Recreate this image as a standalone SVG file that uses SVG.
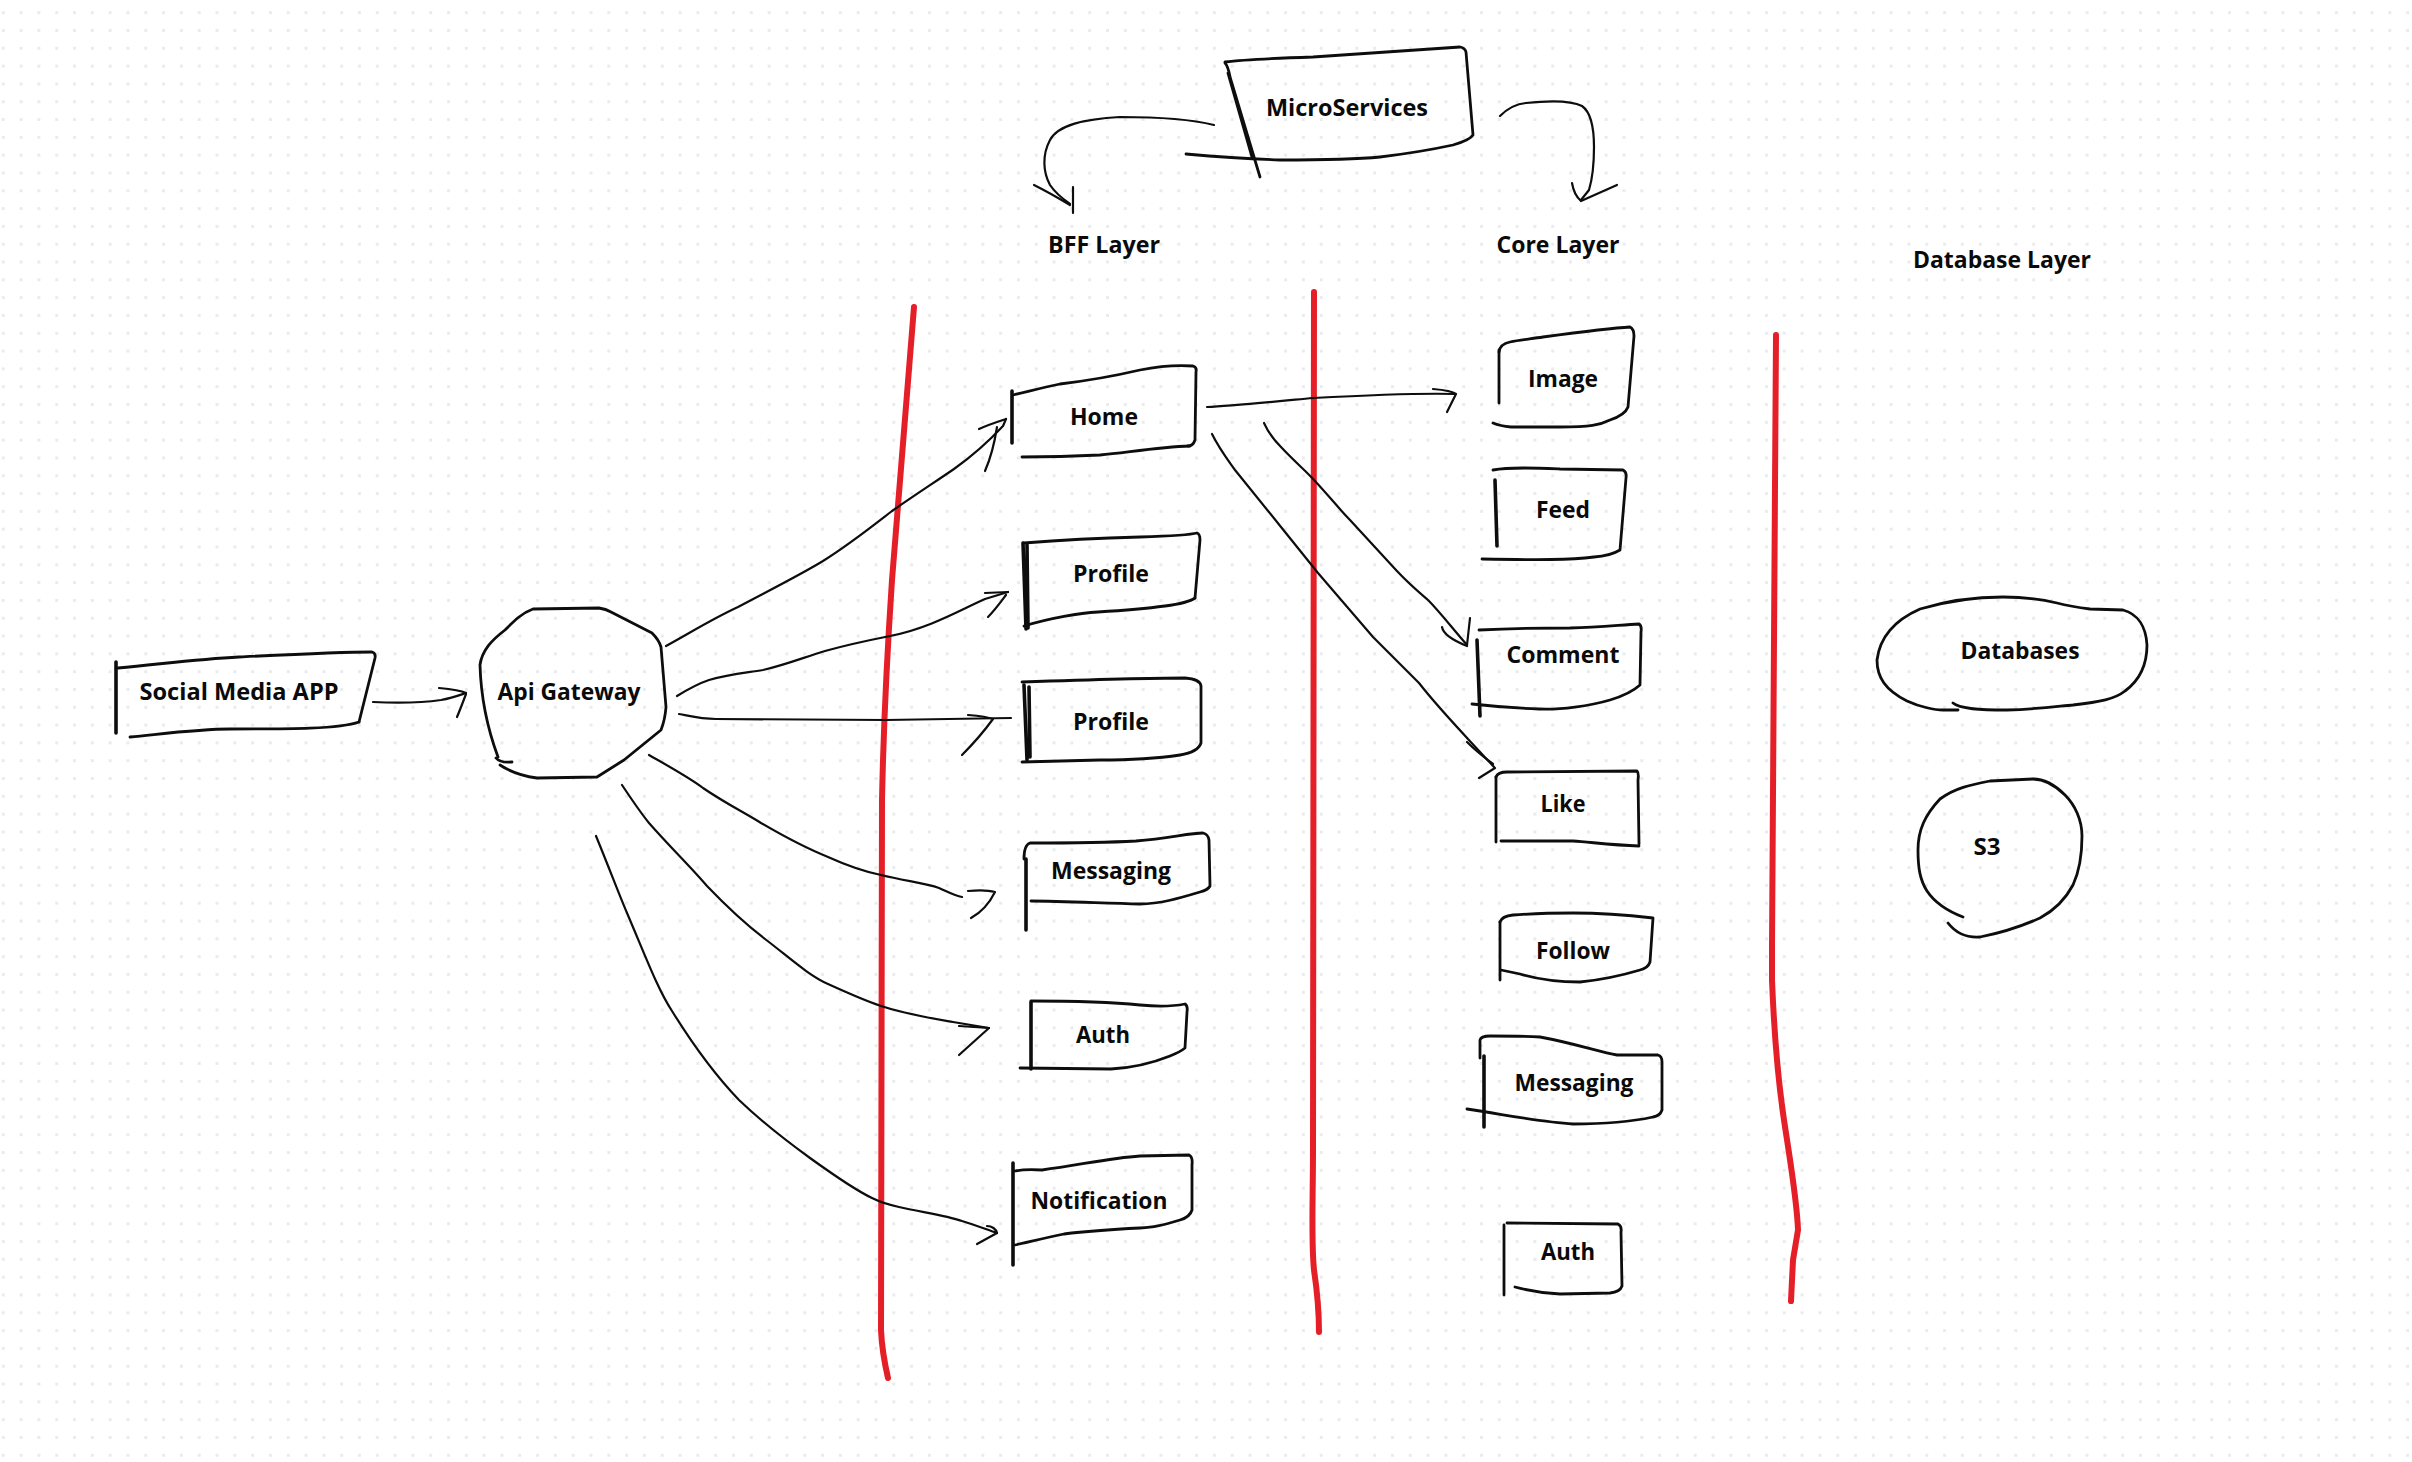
<svg xmlns="http://www.w3.org/2000/svg" width="2412" height="1462" viewBox="0 0 2412 1462">
<defs>
<pattern id="dots" patternUnits="userSpaceOnUse" x="1.8" y="11.2" width="17.81" height="17.81">
<rect x="0" y="0" width="3" height="3" fill="#e9ebef"/>
</pattern>
<style>
.s{fill:none;stroke:#0d0d0d;stroke-width:2.8;stroke-linecap:round;stroke-linejoin:round}
.t{stroke-width:3.6}
.c{fill:none;stroke:#0d0d0d;stroke-width:2.2;stroke-linecap:round;stroke-linejoin:round}
.r{fill:none;stroke:#e51f28;stroke-width:6;stroke-linecap:round;stroke-linejoin:round}
.l{font-family:"Open Sans","Liberation Sans",sans-serif;font-weight:700;font-size:24px;fill:#0a0a0a;text-anchor:middle}
</style>
</defs>
<rect width="2412" height="1462" fill="#ffffff"/>
<rect width="2412" height="1462" fill="url(#dots)"/>

<g id="dividers">
<path class="r" d="M914,307 L892,580 Q884,700 882,800 L881,1330 Q882,1352 888,1378"/>
<path class="r" d="M1314,292 L1313,1150 C1313,1200 1311,1240 1314,1270 C1317,1290 1319,1310 1319,1332"/>
<path class="r" d="M1776,335 L1772,946 L1772,980 C1774,1030 1778,1080 1784,1120 C1790,1160 1797,1200 1798,1230 L1793,1260 L1791,1301"/>
</g>

<g id="layer-labels">
<text class="l" x="1104" y="253" textLength="112" lengthAdjust="spacingAndGlyphs">BFF Layer</text>
<text class="l" x="1558" y="253" textLength="123" lengthAdjust="spacingAndGlyphs">Core Layer</text>
<text class="l" x="2002" y="268" textLength="178" lengthAdjust="spacingAndGlyphs">Database Layer</text>
</g>

<g id="connectors">
<!-- Social -> Api -->
<path class="c" d="M373,702 C395,703 420,703 441,700 C452,698 460,695 466,693"/>
<path class="c" d="M439,688 C450,689 460,690 466,693 M466,694 C463,702 460,710 457,717"/>
<!-- MicroServices -> BFF -->
<path class="c" d="M1214,125 C1190,119 1153,117 1120,117 C1084,119 1058,125 1050,140 C1042,155 1043,172 1050,185 C1056,194 1063,199 1070,204"/>
<path class="c" d="M1034,185 C1048,192 1060,199 1070,205 M1073,187 L1073,213"/>
<!-- MicroServices -> Core -->
<path class="c" d="M1500,116 C1508,108 1515,104 1526,103 C1545,101 1570,100 1582,106 C1592,113 1594,130 1594,147 C1594,165 1592,180 1589,190 L1581,200"/>
<path class="c" d="M1572,183 Q1574,195 1581,201 M1617,185 L1581,201"/>
<!-- Api -> Home -->
<path class="c" d="M666,646 C690,633 710,620 738,607 C770,590 800,575 823,561 C850,544 870,528 892,511 C915,495 935,482 954,469 C975,454 990,440 1003,426 L1006,419"/>
<path class="c" d="M979,429 C990,424 1000,421 1006,419 M997,427 C995,440 992,455 985,471"/>
<!-- Api -> Profile 1 -->
<path class="c" d="M677,696 C690,688 700,683 709,680 C730,674 745,673 763,670 C785,665 805,657 825,651 C850,644 870,640 890,636 C930,628 960,610 985,599 L1008,592"/>
<path class="c" d="M985,593 L1008,592 M1006,595 C1000,603 995,610 988,617"/>
<!-- Api -> Profile 2 -->
<path class="c" d="M679,714 C690,716 700,719 716,719 L886,720 L1011,718"/>
<path class="c" d="M968,715 C980,716 988,717 993,719 M993,719 C985,730 972,745 962,755"/>
<!-- Api -> Messaging -->
<path class="c" d="M649,755 C670,767 690,778 703,788 C725,803 745,813 761,823 C790,840 808,849 828,857 C848,866 866,872 881,875 C905,881 925,883 939,888 C948,892 955,896 962,897"/>
<path class="c" d="M968,891 C978,890 988,890 995,892 C990,902 982,912 971,918"/>
<!-- Api -> Auth -->
<path class="c" d="M622,785 C632,800 640,812 649,823 C670,847 690,866 707,886 C730,910 748,926 765,939 C790,958 808,975 828,984 C850,994 866,1001 881,1006 C905,1014 930,1018 953,1022 L989,1028"/>
<path class="c" d="M959,1026 L989,1028 L959,1055"/>
<!-- Api -> Notification -->
<path class="c" d="M596,836 C610,870 618,892 627,913 C645,955 658,990 672,1011 C695,1048 715,1075 739,1100 C765,1125 788,1142 810,1158 C835,1176 855,1190 872,1198 C882,1203 890,1205 899,1207 C920,1212 945,1215 962,1221 C975,1225 988,1230 997,1233"/>
<path class="c" d="M977,1244 L997,1233 M987,1226 C992,1226 996,1229 997,1233"/>
<!-- Home -> Image -->
<path class="c" d="M1207,407 C1230,406 1260,403 1313,398 C1370,395 1420,393 1455,394"/>
<path class="c" d="M1433,389 C1445,390 1452,391 1456,394 C1453,400 1450,406 1447,412"/>
<!-- Home -> Comment -->
<path class="c" d="M1264,423 C1268,432 1274,440 1281,447 C1295,462 1305,470 1314,480 C1330,497 1340,510 1350,520 L1396,570 C1410,585 1420,593 1428,600 C1440,612 1452,628 1467,645"/>
<path class="c" d="M1470,618 L1467,645 M1442,627 C1443,633 1452,640 1467,646"/>
<!-- Home -> Like -->
<path class="c" d="M1212,434 C1220,450 1228,460 1235,470 L1281,527 L1318,573 L1373,637 L1419,683 C1440,710 1460,730 1494,767"/>
<path class="c" d="M1467,742 C1475,750 1485,758 1493,764 M1479,778 L1495,768"/>
</g>

<g id="node-social">
<path class="s t" d="M116,662 L116,733"/>
<path class="s" d="M118,668 C170,663 200,659 239,657 C300,654 340,652 372,652 Q376,653 375,658 L359,722"/>
<path class="s" d="M130,737 C170,733 200,729 230,729 C290,729 340,729 359,722"/>
<text class="l" x="239" y="700" textLength="199" lengthAdjust="spacingAndGlyphs">Social Media APP</text>
</g>

<g id="node-api">
<path class="s" d="M498,757 C488,730 481,700 480,665 C482,650 492,640 505,630 C515,620 522,613 533,609 L599,608 Q606,609 611,612 L652,633 Q659,640 661,647 L666,707 Q665,720 661,730 L624,760 L597,777 L537,778 Q515,775 500,765"/>
<path class="s" d="M496,758 Q500,763 512,762"/>
<text class="l" x="569" y="700" textLength="143" lengthAdjust="spacingAndGlyphs">Api Gateway</text>
</g>

<g id="node-microservices">
<path class="s" d="M1225,62 C1240,60 1280,58 1313,57 C1360,54 1413,50 1460,47 Q1465,48 1466,52 L1473,135 Q1470,140 1453,145 C1430,150 1413,153 1380,157 C1350,160 1300,160 1280,160 C1250,159 1220,157 1186,154"/>
<path class="s" d="M1225,63 Q1228,66 1230,77 L1260,177 M1228,73 L1252,157"/>
<text class="l" x="1347" y="116" textLength="162" lengthAdjust="spacingAndGlyphs">MicroServices</text>
</g>

<g id="node-bff-home">
<path class="s t" d="M1012,391 L1012,443"/>
<path class="s" d="M1013,395 C1030,391 1045,387 1060,384 C1085,381 1110,377 1140,370 C1160,366 1180,365 1193,366 Q1197,367 1196,372 L1195,440 Q1193,446 1188,446"/>
<path class="s" d="M1022,457 C1050,457 1080,456 1100,455 C1130,452 1160,447 1190,446"/>
<text class="l" x="1104" y="425" textLength="68" lengthAdjust="spacingAndGlyphs">Home</text>
</g>

<g id="node-bff-profile-1">
<path class="s t" d="M1023,543 L1026,629 M1027,545 L1028,628"/>
<path class="s" d="M1024,543 C1060,540 1098,538 1140,537 C1170,536 1190,535 1197,533 Q1200,534 1200,540 L1195,598"/>
<path class="s" d="M1024,626 C1050,618 1080,613 1098,612 C1130,610 1150,608 1165,606 Q1188,603 1195,598"/>
<text class="l" x="1111" y="582" textLength="76" lengthAdjust="spacingAndGlyphs">Profile</text>
</g>

<g id="node-bff-profile-2">
<path class="s t" d="M1024,685 L1027,760 M1029,687 L1030,757"/>
<path class="s" d="M1022,682 C1080,680 1150,678 1185,678 Q1200,679 1201,686 L1201,743 Q1198,752 1180,755 C1160,758 1130,760 1100,760 L1022,762"/>
<text class="l" x="1111" y="730" textLength="76" lengthAdjust="spacingAndGlyphs">Profile</text>
</g>

<g id="node-bff-messaging">
<path class="s t" d="M1026,859 L1026,930"/>
<path class="s" d="M1024,859 Q1024,845 1030,843 C1060,843 1100,843 1136,841 C1170,838 1190,833 1203,833 Q1208,834 1209,840 L1210,886 Q1208,890 1200,892 C1180,898 1160,904 1140,904 C1100,903 1060,901 1031,901"/>
<text class="l" x="1111" y="879" textLength="120" lengthAdjust="spacingAndGlyphs">Messaging</text>
</g>

<g id="node-bff-auth">
<path class="s t" d="M1031,1002 L1031,1069"/>
<path class="s" d="M1031,1001 C1080,1001 1120,1003 1140,1005 C1160,1007 1175,1006 1185,1004 Q1188,1006 1187,1012 L1185,1048 Q1180,1052 1170,1056 C1150,1064 1130,1068 1111,1069 L1020,1068"/>
<text class="l" x="1103" y="1043" textLength="54" lengthAdjust="spacingAndGlyphs">Auth</text>
</g>

<g id="node-bff-notification">
<path class="s t" d="M1013,1163 L1013,1265"/>
<path class="s" d="M1015,1171 Q1025,1169 1042,1170 C1080,1165 1110,1158 1140,1156 L1189,1155 Q1193,1157 1192,1165 L1192,1210 Q1190,1217 1180,1220 C1160,1226 1154,1227 1140,1228 C1100,1230 1080,1232 1064,1234 C1040,1239 1025,1243 1015,1245"/>
<text class="l" x="1099" y="1209" textLength="137" lengthAdjust="spacingAndGlyphs">Notification</text>
</g>

<g id="node-core-image">
<path class="s" d="M1499,350 L1499,403"/>
<path class="s" d="M1499,352 Q1500,344 1510,342 C1520,340 1530,339 1543,337 C1580,332 1610,328 1630,327 Q1634,329 1634,336 L1628,407 Q1625,415 1610,420 C1600,425 1590,427 1560,427 L1511,427 Q1500,426 1493,423"/>
<text class="l" x="1563" y="387" textLength="70" lengthAdjust="spacingAndGlyphs">Image</text>
</g>

<g id="node-core-feed">
<path class="s t" d="M1495,480 L1497,546"/>
<path class="s" d="M1493,470 C1510,467 1534,468 1560,469 L1623,470 Q1627,472 1626,478 L1620,550 Q1610,556 1594,557 C1570,560 1540,560 1482,559"/>
<text class="l" x="1563" y="518" textLength="54" lengthAdjust="spacingAndGlyphs">Feed</text>
</g>

<g id="node-core-comment">
<path class="s t" d="M1477,640 L1480,716"/>
<path class="s" d="M1479,630 C1500,629 1534,628 1570,628 C1600,627 1620,625 1639,624 Q1642,626 1641,632 L1640,685 Q1630,694 1610,700 C1590,706 1560,710 1539,709 C1510,708 1490,706 1472,704"/>
<text class="l" x="1563" y="663" textLength="113" lengthAdjust="spacingAndGlyphs">Comment</text>
</g>

<g id="node-core-like">
<path class="s" d="M1496,777 L1496,842"/>
<path class="s" d="M1496,777 Q1498,772 1507,772 L1637,771 Q1639,773 1638,780 L1639,844"/>
<path class="s" d="M1501,841 L1573,841 C1590,842 1610,845 1639,846"/>
<text class="l" x="1563" y="812" textLength="45" lengthAdjust="spacingAndGlyphs">Like</text>
</g>

<g id="node-core-follow">
<path class="s" d="M1500,922 L1500,980"/>
<path class="s" d="M1500,922 Q1502,916 1513,915 C1540,913 1560,913 1573,913 C1600,913 1627,915 1653,918 L1650,962 Q1648,968 1640,970 C1620,976 1600,980 1580,982 C1560,982 1540,980 1520,974 L1501,970"/>
<text class="l" x="1573" y="959" textLength="74" lengthAdjust="spacingAndGlyphs">Follow</text>
</g>

<g id="node-core-messaging">
<path class="s" d="M1480,1058 L1480,1040 Q1481,1036 1490,1036 C1500,1036 1523,1036 1540,1037 C1573,1043 1600,1052 1617,1055 L1658,1055 Q1662,1056 1662,1062 L1662,1110 Q1660,1116 1653,1117 C1630,1122 1600,1124 1573,1124 C1540,1122 1507,1115 1467,1109"/>
<path class="s t" d="M1484,1056 L1484,1127"/>
<text class="l" x="1574" y="1091" textLength="119" lengthAdjust="spacingAndGlyphs">Messaging</text>
</g>

<g id="node-core-auth">
<path class="s" d="M1504,1225 L1504,1295"/>
<path class="s" d="M1507,1223 L1618,1224 Q1622,1226 1621,1232 L1622,1286 Q1620,1292 1610,1293 L1560,1294 C1540,1293 1530,1291 1515,1287"/>
<text class="l" x="1568" y="1260" textLength="54" lengthAdjust="spacingAndGlyphs">Auth</text>
</g>

<g id="node-databases">
<path class="s" d="M1953,703 C1960,709 1980,710 2007,710 C2040,709 2060,706 2073,705 C2100,702 2115,699 2125,691 C2140,680 2147,663 2147,645 C2146,627 2138,614 2123,610 L2090,609 C2075,607 2065,605 2057,603 C2040,599 2020,597 2003,597 C1970,597 1940,603 1920,609 C1895,620 1880,636 1877,660 C1877,677 1885,690 1907,701 C1920,707 1935,710 1943,710 L1958,710"/>
<text class="l" x="2020" y="659" textLength="119" lengthAdjust="spacingAndGlyphs">Databases</text>
</g>

<g id="node-s3">
<path class="s" d="M1963,917 C1950,912 1935,903 1927,891 C1920,880 1918,868 1918,850 C1918,830 1925,815 1940,799 C1955,788 1970,785 1990,781 L2033,779 C2045,779 2055,785 2065,795 C2075,805 2082,820 2082,836 C2082,855 2080,870 2073,885 C2065,900 2055,910 2040,918 C2020,927 2000,933 1980,937 C1965,938 1955,932 1948,923"/>
<text class="l" x="1987" y="855" textLength="27" lengthAdjust="spacingAndGlyphs">S3</text>
</g>
</svg>
